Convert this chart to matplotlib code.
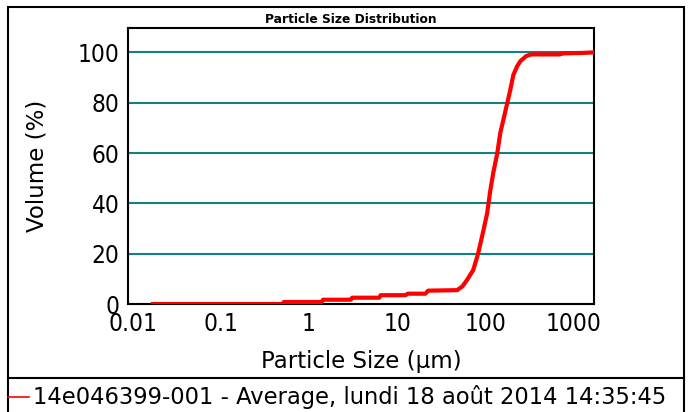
import matplotlib
matplotlib.use("Agg")
import matplotlib.pyplot as plt
from matplotlib.lines import Line2D
from matplotlib.patches import Rectangle

# cumulative volume curve
size_um = [0.017, 0.5, 0.52, 1.4, 1.45, 3.0, 3.1, 6.3, 6.5, 12.5, 13.2, 21, 22.5,
           48, 55, 62, 73, 83, 95, 105, 114, 123, 137, 148, 160, 178, 192, 208,
           230, 250, 290, 330, 700, 760, 1300, 1710]
volume = [0, 0, 0.8, 0.8, 1.7, 1.7, 2.5, 2.5, 3.5, 3.5, 4.1, 4.1, 5.3,
          5.5, 7, 9.5, 13.5, 20, 29, 36, 45, 52, 60, 68, 73, 80, 85, 91,
          94.5, 96.5, 98.5, 99.2, 99.2, 99.6, 99.8, 100]

x_ticks = [0.01, 0.1, 1, 10, 100, 1000]
x_tick_labels = ["0.01", "0.1", "1", "10", "100", "1000"]
y_ticks = [0, 20, 40, 60, 80, 100]

title = "Particle Size Distribution"
legend_text = "14e046399-001 - Average, lundi 18 août 2014 14:35:45"

W, H = 694, 412
fig = plt.figure(figsize=(W / 100, H / 100), dpi=100)
fam = "DejaVu Sans"

ax = fig.add_axes([128 / W, 1 - 304 / H, (594 - 128) / W, (304 - 28) / H])
ax.plot(size_um, volume, color="red", lw=3, solid_joinstyle="round", zorder=3)
ax.set_xscale("log")
ax.set_xlim(0.0089, 1710)
ax.set_ylim(0, 109.7)
ax.set_xticks(x_ticks)
ax.set_xticklabels(x_tick_labels)
ax.minorticks_off()
ax.set_yticks(y_ticks)
for v in y_ticks[1:]:
    ax.axhline(v, color="#128080", lw=1.5, zorder=1)
ax.tick_params(length=0, labelsize=17.5, pad=6)
for lab in ax.get_xticklabels() + ax.get_yticklabels():
    lab.set_family(fam)
    lab.set_fontstretch("condensed")
for sp in ax.spines.values():
    sp.set_linewidth(1.5)
    sp.set_color("black")
ax.set_xlabel("Particle Size (µm)", fontsize=16.5, family=fam)
ax.set_ylabel("Volume (%)", fontsize=16.5, family=fam)
ax.xaxis.set_label_coords(0.5, -0.167)
ax.yaxis.set_label_coords(-0.195, 0.5)
ax.yaxis.label.set_va("center")

fig.text(351 / W, 1 - 26 / H, title, ha="center", va="bottom",
         fontsize=8.8, fontweight="bold", family=fam)

# outer frame and legend strip
fig.add_artist(Rectangle((8 / W, -0.05), (684 - 8) / W, 1.05 - 7 / H,
                         transform=fig.transFigure, fill=False, lw=1.5,
                         edgecolor="black"))
fig.add_artist(Line2D([8 / W, 684 / W], [1 - 378 / H, 1 - 378 / H],
                      transform=fig.transFigure, color="black", lw=1.5))
fig.add_artist(Line2D([8 / W, 29 / W], [1 - 397 / H, 1 - 397 / H],
                      transform=fig.transFigure, color="red", lw=1.2))
fig.text(33 / W, 1 - 397 / H, legend_text, ha="left", va="center",
         fontsize=16.3, family=fam)

fig.savefig("out.png", dpi=100)
